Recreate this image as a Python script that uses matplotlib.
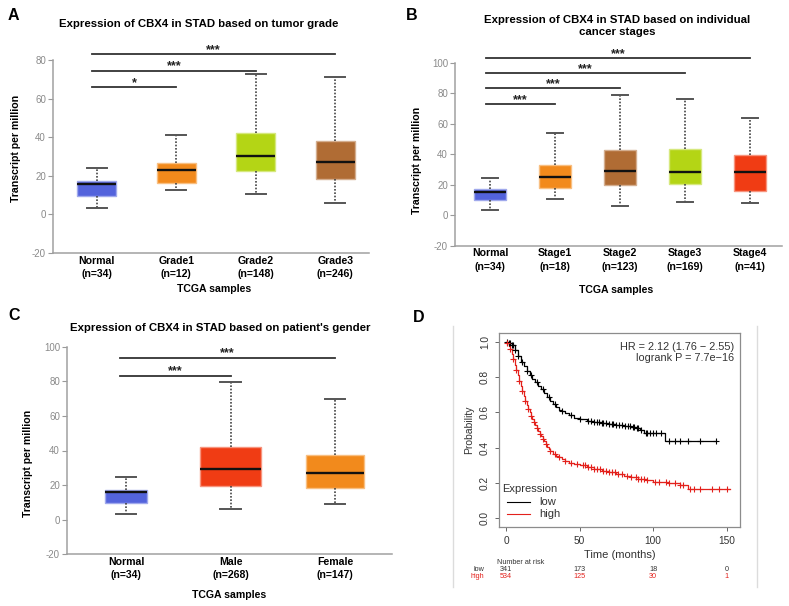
import numpy as np
import matplotlib
matplotlib.use('Agg')
import matplotlib.pyplot as plt
from matplotlib.lines import Line2D
from matplotlib.colors import to_rgb
import matplotlib.transforms as mtransforms

plt.rcParams['font.family'] = ['Liberation Sans', 'DejaVu Sans']
plt.rcParams['axes.unicode_minus'] = False

W, H = 789, 606

# panel A: tumor grade
grade_labels = ['Normal\n(n=34)', 'Grade1\n(n=12)', 'Grade2\n(n=148)', 'Grade3\n(n=246)']
grade_q1 = [9.4, 16.5, 22.5, 18.5]
grade_med = [15.9, 22.9, 30.1, 27.2]
grade_q3 = [17.1, 26.7, 42.2, 37.8]
grade_lo = [3.5, 12.5, 10.7, 6.1]
grade_hi = [24.2, 40.9, 73.0, 71.0]
grade_colors = ['#5363dc', '#f28a1c', '#b4d515', '#b06c34']
grade_sig_y = [66, 74.5, 83]
grade_sig_to = [1, 2, 3]
grade_sig_txt = ['*', '***', '***']

# panel B: cancer stage
stage_labels = ['Normal\n(n=34)', 'Stage1\n(n=18)', 'Stage2\n(n=123)', 'Stage3\n(n=169)', 'Stage4\n(n=41)']
stage_q1 = [9.8, 17.9, 19.7, 20.4, 15.8]
stage_med = [15.3, 25.2, 28.9, 28.0, 28.0]
stage_q3 = [16.9, 32.8, 42.7, 43.1, 39.4]
stage_lo = [3.7, 10.9, 6.1, 8.8, 8.3]
stage_hi = [24.1, 53.6, 78.8, 76.0, 63.9]
stage_colors = ['#5363dc', '#f28a1c', '#b06c34', '#b4d515', '#f03c14']
stage_sig_y = [72.7, 83.2, 93.4, 102.9]
stage_sig_to = [1, 2, 3, 4]
stage_sig_txt = ['***', '***', '***', '***']

# panel C: gender
gender_labels = ['Normal\n(n=34)', 'Male\n(n=268)', 'Female\n(n=147)']
gender_q1 = [9.6, 19.6, 18.3]
gender_med = [15.8, 29.2, 26.9]
gender_q3 = [17.3, 42.3, 37.3]
gender_lo = [3.5, 6.2, 9.2]
gender_hi = [24.4, 79.4, 69.6]
gender_colors = ['#5363dc', '#f03c14', '#f28a1c']
gender_sig_y = [83.3, 93.7]
gender_sig_to = [1, 2]
gender_sig_txt = ['***', '***']

# panel D: Kaplan-Meier
low_t = [0, 2, 4, 6, 8, 10, 12, 14, 16, 18, 20, 22, 24, 26, 28, 30, 32, 34, 36, 38,
         40, 43, 46, 50, 55, 60, 65, 70, 75, 80, 85, 88, 91, 94, 108, 143]
low_s = [1.0, 0.99, 0.98, 0.95, 0.92, 0.885, 0.86, 0.835, 0.81, 0.79, 0.77, 0.75, 0.73,
         0.71, 0.685, 0.665, 0.645, 0.63, 0.615, 0.605, 0.595, 0.585, 0.57, 0.56, 0.55,
         0.545, 0.54, 0.535, 0.53, 0.52, 0.515, 0.51, 0.50, 0.485, 0.44, 0.44]
high_t = [0, 1, 2, 3, 4, 5, 6, 7, 8, 9, 10, 11, 12, 13, 14, 15, 16, 17, 18, 19, 20, 21,
          22, 23, 24, 25, 26, 27, 28, 29, 30, 32, 34, 36, 38, 40, 43, 46, 50, 55, 60, 65,
          70, 75, 80, 85, 90, 95, 100, 110, 118, 124, 152]
high_s = [1.0, 0.99, 0.975, 0.96, 0.93, 0.90, 0.87, 0.84, 0.81, 0.78, 0.75, 0.72, 0.695,
          0.665, 0.64, 0.62, 0.60, 0.58, 0.56, 0.545, 0.53, 0.51, 0.495, 0.48, 0.465, 0.45,
          0.435, 0.42, 0.405, 0.39, 0.38, 0.365, 0.355, 0.345, 0.335, 0.325, 0.315, 0.305,
          0.30, 0.29, 0.28, 0.27, 0.26, 0.25, 0.24, 0.235, 0.225, 0.215, 0.208, 0.198,
          0.19, 0.165, 0.165]
low_cens = [1, 2, 3, 4, 5, 6, 8, 11, 14, 17, 21, 25, 29, 33, 38, 44, 50, 56, 58, 60, 62,
            63, 65, 66, 68, 70, 72, 73, 75, 77, 79, 81, 83, 84, 86, 87, 89, 90, 92, 95, 96,
            98, 100, 102, 105, 111, 115, 118, 124, 132, 143]
high_cens = [1, 3, 5, 7, 9, 11, 13, 15, 17, 19, 21, 23, 25, 27, 30, 33, 36, 40, 44, 48,
             52, 54, 56, 58, 60, 62, 64, 66, 68, 70, 72, 74, 76, 79, 82, 85, 88, 90, 92,
             94, 96, 101, 104, 109, 111, 115, 118, 120, 125, 128, 132, 140, 145, 150]
risk_times = [0, 50, 100, 150]
low_risk = [341, 173, 18, 0]
high_risk = [534, 125, 30, 1]
km_red = '#e3211c'

LAB = 7.6     # bold axis / category labels
TITLE = 8.2


def rect(l, t, r, b):
    return [l / W, 1 - b / H, (r - l) / W, (b - t) / H]


def ftext(fig, x, y, s, **kw):
    fig.text(x / W, 1 - y / H, s, **kw)


def lighten(c, f=0.45):
    rgb = np.array(to_rgb(c))
    return tuple(rgb + (1 - rgb) * f)


def box_panel(ax, labels, q1, med, q3, lo, hi, colors, widths, capw,
              xlim, ylim, yticks, sig_y, sig_to, sig_txt):
    stats = [dict(med=m, q1=a, q3=b, whislo=l, whishi=h, fliers=[])
             for a, m, b, l, h in zip(q1, med, q3, lo, hi)]
    pos = np.arange(len(stats))
    bp = ax.bxp(stats, positions=pos, widths=widths, capwidths=capw,
                patch_artist=True, showfliers=False,
                whiskerprops=dict(color='#444444', lw=1.2, ls=(0, (1, 1))),
                capprops=dict(color='#555555', lw=1.4),
                medianprops=dict(color='#111111', lw=1.7))
    for patch, c in zip(bp['boxes'], colors):
        patch.set_facecolor(c)
        patch.set_edgecolor(lighten(c))
        patch.set_linewidth(1.0)
    ax.set_xlim(*xlim)
    ax.set_ylim(*ylim)
    ax.set_yticks(yticks)
    ax.set_xticks(pos)
    ax.set_xticklabels(labels, fontsize=LAB, fontweight='bold', linespacing=1.4)
    ax.tick_params(axis='x', length=0, pad=2)
    ax.tick_params(axis='y', length=3.5, width=0.8, color='#999999',
                   labelcolor='#8a8a8a', labelsize=7, pad=1.5)
    for side in ['top', 'right']:
        ax.spines[side].set_visible(False)
    for side in ['left', 'bottom']:
        ax.spines[side].set_color('#a0a0a0')
        ax.spines[side].set_linewidth(1.1)
    # significance bars
    for y, to, txt in zip(sig_y, sig_to, sig_txt):
        x0, x1 = -0.06, to
        ax.plot([x0, x1], [y, y], color='#333333', lw=1.3, clip_on=False)
        ax.text((x0 + x1) / 2, y + 0.6, txt, ha='center', va='baseline',
                fontsize=9, fontweight='bold', color='#222222', clip_on=False)


fig = plt.figure(figsize=(W / 100, H / 100), dpi=100)

# A
axA = fig.add_axes(rect(53, 60, 369, 253))
box_panel(axA, grade_labels, grade_q1, grade_med, grade_q3, grade_lo, grade_hi,
          grade_colors, 0.49, 0.25, (-0.55, 3.425), (-20, 80), [-20, 0, 20, 40, 60, 80],
          grade_sig_y, grade_sig_to, grade_sig_txt)
ftext(fig, 8, 15, 'A', fontsize=11.5, fontweight='bold', va='center')
ftext(fig, 199, 24, 'Expression of CBX4 in STAD based on tumor grade',
      fontsize=TITLE, fontweight='bold', ha='center', va='center')
ftext(fig, 214, 289, 'TCGA samples', fontsize=LAB, fontweight='bold', ha='center', va='center')
ftext(fig, 16, 148, 'Transcript per million', fontsize=LAB, fontweight='bold',
      rotation=90, ha='center', va='center')

# B
axB = fig.add_axes(rect(455, 62.7, 782, 245.7))
box_panel(axB, stage_labels, stage_q1, stage_med, stage_q3, stage_lo, stage_hi,
          stage_colors, 0.5, 0.25, (-0.54, 4.49), (-20, 100), [-20, 0, 20, 40, 60, 80, 100],
          stage_sig_y, stage_sig_to, stage_sig_txt)
ftext(fig, 406, 15, 'B', fontsize=11.5, fontweight='bold', va='center')
ftext(fig, 617, 26, 'Expression of CBX4 in STAD based on individual\ncancer stages',
      fontsize=TITLE, fontweight='bold', ha='center', va='center', linespacing=1.2)
ftext(fig, 616, 290, 'TCGA samples', fontsize=LAB, fontweight='bold', ha='center', va='center')
ftext(fig, 417, 160, 'Transcript per million', fontsize=LAB, fontweight='bold',
      rotation=90, ha='center', va='center')

# C
axC = fig.add_axes(rect(67, 346.7, 392, 554.3))
box_panel(axC, gender_labels, gender_q1, gender_med, gender_q3, gender_lo, gender_hi,
          gender_colors, [0.41, 0.58, 0.55], 0.2, (-0.565, 2.545), (-20, 100),
          [-20, 0, 20, 40, 60, 80, 100], gender_sig_y, gender_sig_to, gender_sig_txt)
ftext(fig, 8, 316, 'C', fontsize=11.5, fontweight='bold', va='center')
ftext(fig, 220, 328, "Expression of CBX4 in STAD based on patient's gender",
      fontsize=TITLE, fontweight='bold', ha='center', va='center')
ftext(fig, 229, 595, 'TCGA samples', fontsize=LAB, fontweight='bold', ha='center', va='center')
ftext(fig, 28, 463, 'Transcript per million', fontsize=LAB, fontweight='bold',
      rotation=90, ha='center', va='center')

# D
axD = fig.add_axes(rect(499, 333, 740, 527))


def step_value(ts, ss, t):
    i = np.searchsorted(ts, t, side='right') - 1
    return np.asarray(ss)[i]


axD.step(low_t, low_s, where='post', color='black', lw=0.9)
axD.step(high_t, high_s, where='post', color=km_red, lw=0.9)
axD.plot(low_cens, step_value(low_t, low_s, low_cens), '+', color='black', ms=4, mew=0.8)
axD.plot(high_cens, step_value(high_t, high_s, high_cens), '+', color=km_red, ms=4, mew=0.8)
axD.set_xlim(-4.76, 159)
axD.set_ylim(-0.049, 1.049)
axD.set_xticks([0, 50, 100, 150])
axD.set_yticks([0.0, 0.2, 0.4, 0.6, 0.8, 1.0])
axD.set_yticklabels(['0.0', '0.2', '0.4', '0.6', '0.8', '1.0'], rotation=90, va='center')
axD.tick_params(labelsize=7.3, color='#666666', labelcolor='#333333', length=3, width=0.7)
for sp in axD.spines.values():
    sp.set_color('#8c8c8c')
    sp.set_linewidth(0.9)
axD.set_xlabel('Time (months)', fontsize=8, color='#333333', labelpad=3)
axD.set_ylabel('Probability', fontsize=7.5, color='#333333', labelpad=4)
axD.text(0.975, 0.955, 'HR = 2.12 (1.76 \u2212 2.55)\nlogrank P = 7.7e\u221216',
         transform=axD.transAxes, ha='right', va='top', fontsize=7.8, color='#333333',
         linespacing=1.15)
# legend
axD.text(0.015, 0.196, 'Expression', transform=axD.transAxes, fontsize=8,
         color='#333333', va='center')
axD.plot([0.035, 0.13], [0.129, 0.129], color='black', lw=0.8, transform=axD.transAxes)
axD.plot([0.035, 0.13], [0.067, 0.067], color=km_red, lw=0.8, transform=axD.transAxes)
axD.text(0.165, 0.129, 'low', transform=axD.transAxes, fontsize=8, color='#333333', va='center')
axD.text(0.165, 0.067, 'high', transform=axD.transAxes, fontsize=8, color='#333333', va='center')

# risk table
trans = mtransforms.blended_transform_factory(axD.transData, fig.transFigure)
ftext(fig, 497, 562, 'Number at risk', fontsize=5.2, color='#333333', va='center')
ftext(fig, 484, 569.5, 'low', fontsize=5.2, color='#333333', ha='right', va='center')
ftext(fig, 484, 576.5, 'high', fontsize=5.2, color=km_red, ha='right', va='center')
for t, lo_n, hi_n in zip(risk_times, low_risk, high_risk):
    fig.text(t, 1 - 569.5 / H, str(lo_n), transform=trans, fontsize=5.2,
             color='#333333', ha='center', va='center')
    fig.text(t, 1 - 576.5 / H, str(hi_n), transform=trans, fontsize=5.2,
             color=km_red, ha='center', va='center')

# light frame around panel D image
for x in [453, 757]:
    fig.add_artist(Line2D([x / W, x / W], [1 - 326 / H, 1 - 587 / H],
                          color='#dcdcdc', lw=1.0))
ftext(fig, 413, 318, 'D', fontsize=11.5, fontweight='bold', va='center')

fig.savefig('out.png', dpi=100)
